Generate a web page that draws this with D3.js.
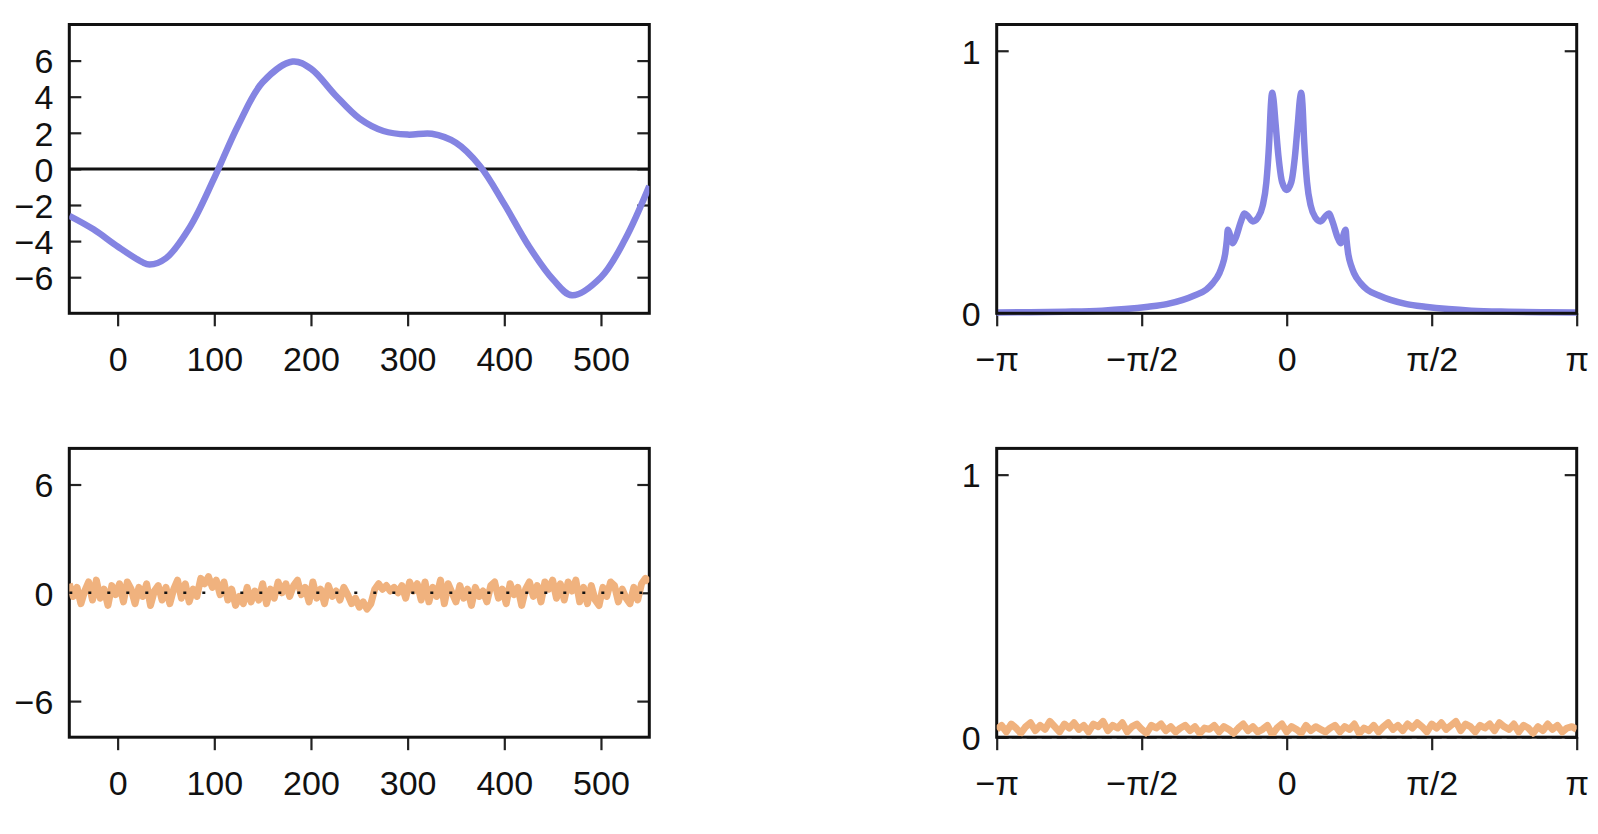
<!DOCTYPE html>
<html>
<head>
<meta charset="utf-8">
<script src="https://cdn.jsdelivr.net/npm/d3@7"></script>
<style>
  body { margin: 0; background: #fff; }
  .canvas { width: 1598px; height: 834px; }
  text { font-family: "Liberation Sans", Arial, sans-serif; }
</style>
</head>
<body>
<div class="canvas"></div>
<script>
// ---- data ----
// top left: smooth signal (time, value)
const signalX = [-50, -25, 0, 25, 33, 50, 75, 100, 125, 150, 181, 200, 225, 250, 275, 300, 325, 350, 375, 400, 425, 450, 470, 500, 525, 550]
const signalY = [-2.6, -3.35, -4.3, -5.15, -5.3, -4.95, -3.2, -0.5, 2.45, 4.8, 5.95, 5.55, 4.1, 2.8, 2.1, 1.9, 1.95, 1.45, 0.15, -1.95, -4.25, -6.1, -7.0, -6.0, -3.9, -0.95]

// top right: spectrum of the signal (frequency in rad, magnitude)
const specX = [-Math.PI, -2.8, -2.4, -2.0, -1.75, -1.5, -1.3, -1.125, -1.0, -0.873, -0.8, -0.729, -0.7, -0.665, -0.648, -0.638, -0.625, -0.6, -0.584, -0.55, -0.5, -0.457, -0.42, -0.367, -0.31, -0.26, -0.22, -0.19, -0.17, -0.158, -0.145, -0.12, -0.09, -0.05,
  0, 0.05, 0.09, 0.12, 0.145, 0.158, 0.17, 0.19, 0.22, 0.26, 0.31, 0.367, 0.42, 0.457, 0.5, 0.55, 0.584, 0.6, 0.625, 0.638, 0.648, 0.665, 0.7, 0.729, 0.8, 0.873, 1.0, 1.125, 1.3, 1.5, 1.75, 2.0, 2.4, 2.8, Math.PI]
const specY = [0.003, 0.004, 0.006, 0.01, 0.016, 0.025, 0.035, 0.051, 0.068, 0.09, 0.115, 0.153, 0.18, 0.23, 0.28, 0.318, 0.31, 0.28, 0.267, 0.29, 0.345, 0.38, 0.37, 0.35, 0.365, 0.41, 0.5, 0.65, 0.8, 0.84, 0.82, 0.72, 0.6, 0.5,
  0.47, 0.5, 0.6, 0.72, 0.82, 0.84, 0.8, 0.65, 0.5, 0.41, 0.365, 0.35, 0.37, 0.38, 0.345, 0.29, 0.267, 0.28, 0.31, 0.318, 0.28, 0.23, 0.18, 0.153, 0.115, 0.09, 0.068, 0.051, 0.035, 0.025, 0.016, 0.01, 0.006, 0.004, 0.003]

// bottom left: noise, one sample every 4 time units from -50
const noiseY = [0.5, -0.2, 0.3, -0.6, 0.1, 0.6, -0.4, 0.7, -0.3, 0.2, -0.7, 0.4, -0.1, 0.5, -0.5, 0.6, 0.2, -0.6, 0.3, -0.2,
  0.5, -0.7, 0.1, 0.4, -0.4, 0.3, -0.6, 0.2, 0.7, -0.3, 0.5, -0.5, 0.2, -0.2, 0.8, 0.5, 0.9, 0.3, 0.7, -0.1,
  0.6, -0.4, 0.2, -0.7, -0.2, -0.6, 0.3, -0.5, 0.1, -0.4, 0.5, -0.6, 0.2, -0.3, 0.6, 0.0, 0.5, -0.2, 0.4, 0.7,
  -0.1, 0.3, -0.5, 0.6, -0.3, 0.2, -0.6, 0.4, -0.2, 0.1, -0.4, 0.3, -0.1, -0.6, -0.3, -0.8, -0.5, -0.9, -0.6, 0.2,
  0.5, 0.2, 0.4, 0.1, 0.3, 0.0, 0.4, -0.3, 0.6, 0.1, 0.5, -0.4, 0.6, -0.5, 0.3, -0.2, 0.7, -0.6, 0.5, 0.0,
  -0.5, 0.4, -0.3, 0.2, -0.7, 0.3, -0.2, 0.1, -0.5, 0.4, 0.6, -0.3, 0.2, -0.6, 0.5, -0.1, 0.3, -0.7, 0.2, 0.6,
  -0.2, 0.4, -0.5, 0.6, 0.2, 0.7, -0.3, 0.5, -0.4, 0.6, 0.1, 0.7, -0.5, 0.3, -0.6, 0.4, -0.4, -0.7, 0.3, -0.2,
  0.6, 0.4, -0.5, 0.2, -0.3, -0.6, 0.3, -0.4, 0.5, 0.8, 0.6]

// bottom right: spectrum of the noise, 121 samples from -pi to pi
const noiseSpecY = [0.03, 0.045, 0.02, 0.05, 0.035, 0.015, 0.04, 0.055, 0.025, 0.045,
  0.03, 0.06, 0.04, 0.02, 0.05, 0.035, 0.055, 0.03, 0.045, 0.02,
  0.05, 0.04, 0.06, 0.025, 0.045, 0.035, 0.055, 0.02, 0.04, 0.05,
  0.03, 0.015, 0.045, 0.035, 0.05, 0.025, 0.04, 0.02, 0.035, 0.045,
  0.025, 0.04, 0.015, 0.035, 0.03, 0.045, 0.02, 0.04, 0.03, 0.015,
  0.035, 0.05, 0.025, 0.04, 0.02, 0.03, 0.045, 0.01, 0.035, 0.05,
  0.02, 0.04, 0.03, 0.015, 0.045, 0.025, 0.04, 0.03, 0.02, 0.035,
  0.045, 0.02, 0.04, 0.03, 0.05, 0.015, 0.035, 0.025, 0.045, 0.02,
  0.04, 0.055, 0.03, 0.045, 0.025, 0.05, 0.035, 0.055, 0.04, 0.02,
  0.05, 0.035, 0.055, 0.03, 0.045, 0.06, 0.025, 0.05, 0.04, 0.02,
  0.045, 0.035, 0.05, 0.025, 0.055, 0.04, 0.03, 0.05, 0.02, 0.045,
  0.035, 0.015, 0.04, 0.025, 0.05, 0.03, 0.045, 0.02, 0.035, 0.04, 0.03]

// ticks
const timeTicks = [0, 100, 200, 300, 400, 500]
const signalYTicks = [-6, -4, -2, 0, 2, 4, 6]
const noiseYTicks = [-6, 0, 6]
const freqTicks = [-Math.PI, -Math.PI / 2, 0, Math.PI / 2, Math.PI]
const freqLabels = ['\u2212\u03c0', '\u2212\u03c0/2', '0', '\u03c0/2', '\u03c0']
const specYTicks = [0, 1]

const BLUE = '#8484e2'
const ORANGE = '#f0b27e'

const canvas = d3.select('.canvas')
const svg = canvas.append('svg').attr('width', 1598).attr('height', 834)

const leftX = 69.3, rightX = 996.7, panelW = 580
const topY = 24.5, botY = 448.4, panelH = 288.8

function panel(x0, y0, xDomain, yDomain, opts) {
    const g = svg.append('g').attr('transform', `translate(${x0},${y0})`)
    const x = d3.scaleLinear().domain(xDomain).range([0, panelW])
    const y = d3.scaleLinear().domain(yDomain).range([panelH, 0])

    const clipId = 'clip' + Math.round(x0) + Math.round(y0)
    g.append('clipPath').attr('id', clipId)
        .append('rect').attr('width', panelW).attr('height', panelH)

    let xAxis = d3.axisBottom(x).tickValues(opts.xTicks).tickSize(13).tickPadding(21)
    if (opts.xLabels) xAxis.tickFormat((d, i) => opts.xLabels[i])
    const gx = g.append('g').attr('transform', `translate(0,${panelH})`).call(xAxis)

    const gy = g.append('g').call(d3.axisLeft(y).tickValues(opts.yTicks).tickSize(-12).tickPadding(16).tickFormat(d3.format('d')))
    const gr = g.append('g').attr('transform', `translate(${panelW},0)`)
        .call(d3.axisRight(y).tickValues(opts.yTicks).tickSize(-12).tickFormat(''))

    for (const a of [gx, gy, gr]) {
        a.select('.domain').remove()
        a.selectAll('line').attr('stroke', '#222').attr('stroke-width', 2.2)
        a.selectAll('text').attr('font-size', 34).attr('fill', '#111')
            .attr('font-family', '"Liberation Sans", Arial, sans-serif')
    }
    gy.selectAll('text').attr('dy', '0.36em')

    return { g, x, y, clipId }
}

function frame(p) {
    p.g.append('rect').attr('width', panelW).attr('height', panelH)
        .attr('fill', 'none').attr('stroke', '#111').attr('stroke-width', 3)
}

// top left
let p = panel(leftX, topY, [-50, 550], [-8, 8], { xTicks: timeTicks, yTicks: signalYTicks })
frame(p)
p.g.append('line').attr('x1', 0).attr('x2', panelW).attr('y1', p.y(0)).attr('y2', p.y(0))
    .attr('stroke', '#111').attr('stroke-width', 3)
p.g.append('path').datum(signalX.map((d, i) => [d, signalY[i]]))
    .attr('clip-path', `url(#${p.clipId})`)
    .attr('fill', 'none').attr('stroke', BLUE).attr('stroke-width', 6.5)
    .attr('d', d3.line().x(d => p.x(d[0])).y(d => p.y(d[1])).curve(d3.curveCatmullRom))

// top right
p = panel(rightX, topY, [-Math.PI, Math.PI], [0, 1.1], { xTicks: freqTicks, xLabels: freqLabels, yTicks: specYTicks })
p.g.append('path').datum(specX.map((d, i) => [d, specY[i]]))
    .attr('fill', 'none').attr('stroke', BLUE).attr('stroke-width', 6.5).attr('stroke-linejoin', 'round')
    .attr('d', d3.line().x(d => p.x(d[0])).y(d => p.y(d[1])).curve(d3.curveMonotoneX))
frame(p)

// bottom left
p = panel(leftX, botY, [-50, 550], [-8, 8], { xTicks: timeTicks, yTicks: noiseYTicks })
frame(p)
p.g.append('path').datum(noiseY)
    .attr('clip-path', `url(#${p.clipId})`)
    .attr('fill', 'none').attr('stroke', ORANGE).attr('stroke-width', 7).attr('stroke-linejoin', 'round')
    .attr('d', d3.line().x((d, i) => p.x(-50 + i * 4)).y(d => p.y(d)))
p.g.append('line').attr('x1', 0).attr('x2', panelW).attr('y1', p.y(0)).attr('y2', p.y(0))
    .attr('stroke', '#111').attr('stroke-width', 2.5).attr('stroke-dasharray', '3,16')

// bottom right
p = panel(rightX, botY, [-Math.PI, Math.PI], [0, 1.1], { xTicks: freqTicks, xLabels: freqLabels, yTicks: specYTicks })
frame(p)
p.g.append('path').datum(noiseSpecY)
    .attr('clip-path', `url(#${p.clipId})`)
    .attr('fill', 'none').attr('stroke', ORANGE).attr('stroke-width', 7).attr('stroke-linejoin', 'round')
    .attr('d', d3.line().x((d, i) => p.x(-Math.PI + i * Math.PI / 60)).y(d => p.y(d)))
p.g.append('line').attr('x1', 0).attr('x2', panelW).attr('y1', p.y(0)).attr('y2', p.y(0))
    .attr('stroke', '#111').attr('stroke-width', 2.5).attr('stroke-dasharray', '10,5')
</script>
</body>
</html>
